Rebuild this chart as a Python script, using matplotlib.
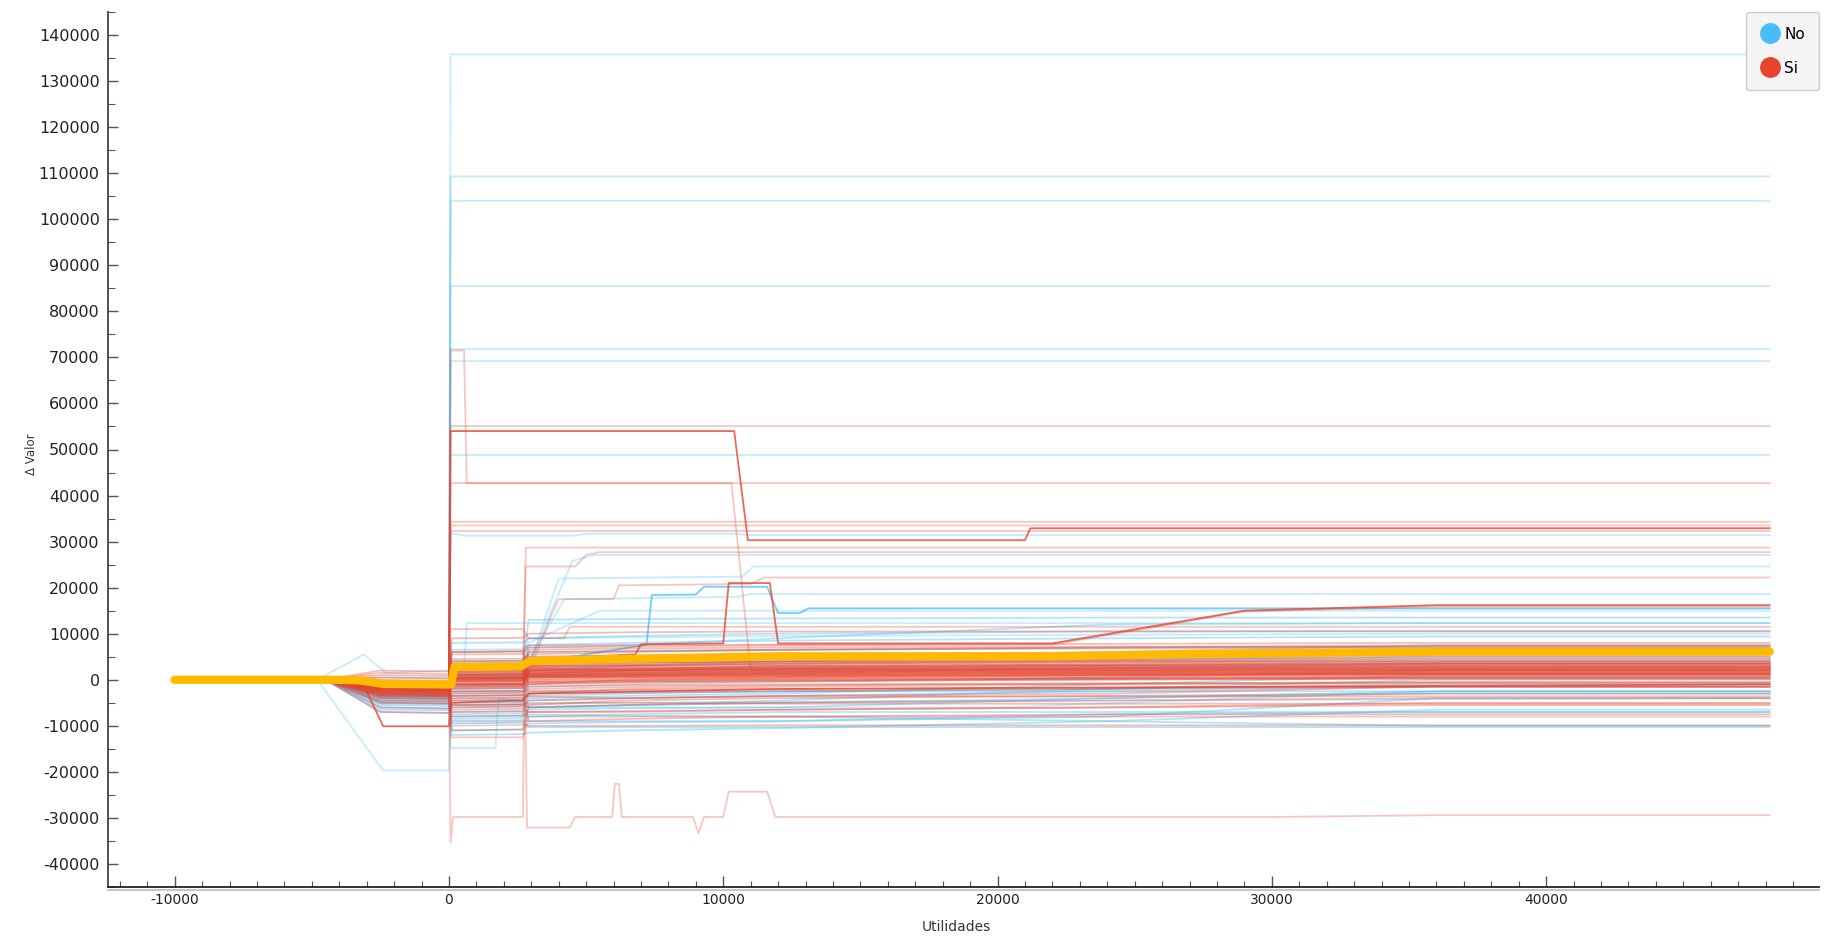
import numpy as np
import matplotlib
matplotlib.use("Agg")
import matplotlib.pyplot as plt
from matplotlib.lines import Line2D
from matplotlib.ticker import MultipleLocator

plt.rcParams["axes.unicode_minus"] = False
plt.rcParams["font.family"] = ["DejaVu Sans"]

COL_NO = "#45bdf7"
COL_SI = "#e8432d"
COL_MEAN = "#ffba00"

# common grid of "Utilidades" for the bulk of the ICE curves
BAND_X = [-10000, -4500, -2500, 0, 100, 2700, 2900, 6500, 12000, 24000, 36000, 48150]

# values at BAND_X[2:]; every curve is centred (0) at the first two grid points
SI_BAND = [
    [-1000, -1200, 500, 600, 1500, 1800, 2000, 2200, 2500, 2500],
    [-2000, -2200, -500, -400, 800, 1000, 1200, 1500, 1800, 1800],
    [-500, -800, 1500, 1600, 2500, 2200, 3000, 3200, 3500, 3500],
    [-3000, -3200, -1500, -1400, 0, 300, 400, 600, 800, 800],
    [1500, 1200, 3000, 3100, 4000, 4800, 4500, 5000, 5500, 5500],
    [-1500, -1700, 0, 100, 1000, 1400, 1500, 1800, 2000, 2000],
    [-4000, -4200, -3000, -2800, -1500, -1200, -1000, -800, -600, -600],
    [-2500, -2600, -1000, -900, 500, 600, 800, 1000, 1200, 1200],
    [500, 300, 2000, 2100, 3000, 3200, 3500, 4000, 4200, 4200],
    [-6000, -6200, -4500, -4300, -3000, -2800, -2500, -2000, -1500, -1500],
    [-1200, -1300, 200, 300, 1200, 2000, 2500, 3000, 3200, 3200],
    [-800, -1000, 1000, 1100, 2000, 2400, 2700, 3000, 3000, 3000],
    [-3500, -3600, -2000, -1800, -500, -300, 0, 300, 500, 500],
    [-2200, -2400, -800, -700, 600, 700, 900, 1100, 1300, 1300],
    [2000, 1800, 4000, 4100, 5500, 6000, 6500, 7000, 7500, 7500],
    [-7000, -7200, -5500, -5300, -5200, -5000, -5200, -5200, -5200, -5200],
    [-1800, -2000, -300, -200, 1000, 1200, 1400, 1600, 1700, 1700],
    [-2800, -3000, -1200, -1100, 200, 500, 600, 900, 1000, 1000],
    [-600, -700, 800, 900, 2200, 2500, 2800, 3300, 3600, 3600],
    [-5000, -5200, -3500, -3300, -3600, -4000, -3600, -3600, -3600, -3600],
    [-1400, -1500, 2500, 2600, 4500, 4200, 5000, 5500, 6000, 6000],
    [-900, -1100, -2500, -2400, -1000, -600, -300, 0, 200, 200],
    [-3200, -3400, 1000, 1100, 2000, 2200, 2300, 2400, 2400, 2400],
    [-2000, -2100, -6000, -5800, -4500, -4000, -3500, -3000, -1500, -1500],
    [1000, 800, 5500, 5600, 7000, 7200, 7500, 7800, 8000, 8000],
    [-4500, -4600, -8000, -7800, -7000, -6800, -6500, -6000, -5000, -5000],
    [-1600, -1800, -1000, -900, 3000, 3200, 3500, 3800, 4000, 4000],
    [-2600, -2800, 200, 300, 1800, 2000, 2200, 2500, 2700, 2700],
    [-1100, -1200, -200, -100, 700, 900, 1000, 1200, 1400, 1400],
    [-3800, -4000, -9500, -9300, -10000, -10000, -9900, -9900, -9900, -9900],
    [-700, -900, 1800, 1900, 2800, 3000, 3200, 3600, 3800, 3800],
    [-2300, -2500, -1800, -1700, -200, 0, 200, 400, 600, 600],
    [0, -200, 3500, 3600, 6000, 6200, 6500, 6800, 7000, 7000],
    [-1300, -1400, -3500, -3400, -2000, -1600, -1200, -800, -500, -500],
    [-2700, -2900, 600, 700, 1400, 1600, 1800, 2000, 2100, 2100],
    [-1900, -2000, 1200, 1300, 2300, 2500, 2600, 2800, 2900, 2900],
    [-3300, -3500, -11000, -10800, -5500, -4500, -4000, -3500, -3000, -3000],
    [-800, -900, 400, 500, 1600, 1800, 1900, 2100, 2300, 2300],
    [-1500, -1600, 9000, 9100, 10000, 10300, 10500, 10500, 10500, 10500],
    [-2400, -2500, -400, -300, 900, 1100, 1300, 1500, 1600, 1600],
    [-1700, -1900, 1400, 1500, 1900, 2100, 2300, 2600, 2800, 2800],
    [-3100, -3300, -2600, -2500, -800, -500, -300, 100, 300, 300],
    [-600, -700, 2200, 2300, 3500, 3800, 4000, 4300, 4600, 4600],
    [-2100, -2200, 100, 200, 1100, 1300, 1600, 1900, 2100, 2100],
    [-900, -1000, -5500, -5400, -6000, -5500, -5000, -4500, -4000, -4000],
    [-1200, -1300, 3500, 3600, -1000, 0, 500, 1000, 1200, 1200],
    [-2500, -2600, -7000, -6800, -3000, -2000, -1500, -1000, -800, -800],
    [-400, -500, 6000, 6100, 3000, 3500, 4000, 4500, 5000, 5000],
    [-3600, -3700, -4000, -3900, -9000, -8500, -8000, -7500, -7500, -7500],
    [-1000, -1100, 1000, 1100, 6500, 6800, 7000, 7200, 7200, 7200],
    [-2900, -3000, -1500, -1400, 3500, 3700, 3800, 4000, 4000, 4000],
    [-1400, -1500, 4500, 4600, 800, 1000, 1200, 1500, 1500, 1500],
    [-500, -600, -4500, -4400, -2500, -2200, -2000, -1800, -1500, -1500],
    [-2200, -2300, 1800, 1900, 5000, 5200, 5500, 5800, 6000, 6000],
    [-1600, -1700, -900, -800, 1300, 1500, 1700, 1900, 2000, 2000],
    [-3400, -3500, 2800, 2900, 500, 700, 900, 1200, 1300, 1300],
    [-800, -900, -1200, -1100, 2000, 2100, 2300, 2500, 2600, 2600],
    [-2000, -2100, 500, 600, -500, -200, 0, 200, 400, 400],
    [-4800, -5000, -6500, -6300, -7000, -7000, -6500, -6000, -5500, -5500],
    [-1300, -1400, 3000, 3100, 2600, 2800, 3000, 3300, 3400, 3400],
]

NO_BAND = [
    [-3000, -3200, -5000, -4800, -3500, -3000, -2500, -2000, -1000, -1000],
    [-5000, -5200, -7500, -7300, -8000, -7500, -7000, -7000, -7000, -7000],
    [-4000, -4200, -10000, -9800, -10300, -10300, -10300, -10300, -10300, -10300],
    [-2000, -2200, -2500, -2400, -2500, -2500, -2500, -2500, -2500, -2500],
    [-3500, -3700, 6500, 6600, 7500, 8000, 8500, 9000, 9400, 9400],
    [-2500, -2700, -6000, -5800, -6000, -5500, -4500, -2000, 0, 0],
    [-6000, -6300, -9000, -8800, -9000, -9000, -9000, -8000, -4000, -4000],
    [-1800, -2000, 500, 600, 5000, 5200, 5500, 6000, 6200, 6200],
    [-4500, -4800, -3000, -2900, 2000, 3000, 4000, 6000, 7500, 7500],
    [-2200, -2300, 3000, 3100, 13000, 13200, 13300, 13500, 13500, 13500],
    [500, 300, -1500, -1400, 1000, 1500, 2000, 2500, 3000, 3000],
    [-3200, -3300, -7000, -6900, -6500, -6200, -6000, -4000, -2500, -2500],
    [-1500, -1600, 1500, 1600, 3500, 3800, 4000, 4500, 5000, 5000],
    [-2800, -3000, -4000, -3900, -1500, -1000, -500, 500, 2000, 2000],
    [-5500, -5700, -11000, -10800, -9500, -9200, -9000, -7500, -7000, -7000],
    [-1200, -1300, 8000, 8100, 9000, 9500, 10000, 10500, 10600, 10600],
    [-4200, -4400, -5500, -5400, -4000, -3500, -3000, -1000, 1000, 1000],
    [-2600, -2700, -1000, -900, 2500, 3000, 3500, 4200, 4500, 4500],
    [-7000, -7200, -8500, -8300, -7500, -7800, -8000, -9000, -10000, -10000],
    [-3800, -3900, 2000, 2100, 7000, 7500, 9000, 12000, 12300, 12300],
    [-1000, -1100, 4000, 4100, 1500, 2000, 2500, 3000, 3500, 3500],
    [-5200, -5300, -3500, -3400, -6000, -5500, -5000, -4000, -3000, -3000],
    [-2300, -2400, -8000, -7800, -4500, -4000, -3500, -2500, -1500, -1500],
    [-6500, -6600, -5000, -4900, 500, 1000, 1500, 2500, 3500, 3500],
    [-1700, -1800, -2000, -1900, 6000, 6300, 6500, 7000, 7200, 7200],
    [-3000, -3100, -12000, -11800, -11500, -11000, -10500, -9000, -6500, -6500],
]

# curves with their own break points (x, y)
SI_PATHS = [
    [(-10000, 0), (-4500, 0), (-2500, -800), (0, -900), (60, 71500), (550, 71500), (650, 42700),
     (10300, 42700), (11000, 2000), (48150, 2500)],
    [(-10000, 0), (-4500, 0), (-2500, -1200), (0, -1300), (60, 55100), (48150, 55100)],
    [(-10000, 0), (-4500, 0), (-2500, -2200), (0, -2300), (60, 42700), (48150, 42700)],
    [(-10000, 0), (-4500, 0), (-2500, -600), (0, -700), (60, 34300), (48150, 34300)],
    [(-10000, 0), (-4500, 0), (-2500, -1700), (0, -1800), (60, 33500), (48150, 33500)],
    [(-10000, 0), (-4500, 0), (-2500, -2600), (0, -2700), (60, 32300), (48150, 32300)],
    [(-10000, 0), (-4500, 0), (-2500, -1400), (0, -1500), (60, 300), (2700, 500), (2800, 28700),
     (48150, 28700)],
    [(-10000, 0), (-4500, 0), (-2500, -1900), (0, -2000), (60, -200), (2700, -200), (2800, 24600),
     (4600, 24600), (5000, 27100), (5500, 27700), (48150, 27700)],
    [(-10000, 0), (-4500, 0), (-2500, -1000), (0, -1100), (60, 1000), (2700, 1200), (2900, 1500),
     (3800, 15000), (4000, 17500), (6000, 17500), (6200, 20500), (11000, 20800), (11500, 22200),
     (48150, 22200)],
    [(-10000, 0), (-4500, 0), (-2500, -1000), (0, -1000), (60, -35300), (150, -29800), (2700, -29800),
     (2750, 5000), (2850, -32100), (4400, -32100), (4600, -29800), (5950, -29800), (6050, -22600),
     (6200, -22600), (6300, -29800), (8900, -29800), (9100, -33400), (9300, -29800), (10000, -29800),
     (10200, -24300), (11600, -24300), (11900, -29800), (30000, -29800), (36000, -29400),
     (48150, -29400)],
    [(-10000, 0), (-4500, 0), (-2500, -3000), (0, -3100), (60, 6000), (2700, 6200), (2900, 7500),
     (12000, 7600), (22000, 7600), (29000, 14800), (36000, 15900), (48150, 15900)],
    [(-10000, 0), (-4500, 0), (-2500, -2000), (0, -2100), (60, -12500), (2700, -12500), (2900, -8000),
     (48150, -8000)],
    [(-10000, 0), (-4500, 0), (-2500, -1500), (0, -1600), (60, 11000), (2700, 11000), (2900, 9000),
     (4200, 9000), (4400, 11500), (48150, 11500)],
]

NO_PATHS = [
    [(-10000, 0), (-4500, 0), (-2500, -1500), (0, -1500), (60, 135800), (48150, 135800)],
    [(-10000, 0), (-4500, 0), (-2500, -2500), (0, -2600), (60, 109300), (48150, 109300)],
    [(-10000, 0), (-4500, 0), (-2500, -1000), (0, -1100), (60, 104000), (48150, 104000)],
    [(-10000, 0), (-4500, 0), (-2500, -3500), (0, -3600), (60, 85500), (48150, 85500)],
    [(-10000, 0), (-4500, 0), (-2500, -2000), (0, -2100), (60, 71800), (48150, 71800)],
    [(-10000, 0), (-4500, 0), (-2500, -4000), (0, -4000), (60, 69200), (48150, 69200)],
    [(-10000, 0), (-4500, 0), (-2500, -1800), (0, -1800), (60, 48800), (48150, 48800)],
    [(-10000, 0), (-4500, 0), (-2500, -3000), (0, -3000), (60, 31800), (600, 31300), (4600, 31300),
     (5000, 31700), (10500, 31700), (10900, 31400), (48150, 31400)],
    [(-10000, 0), (-4800, 0), (-2400, -19700), (0, -19700), (60, -9000), (2800, -9000), (2900, -6000),
     (20000, -6000), (36000, -2500), (48150, -2500)],
    [(-10000, 0), (-4800, 0), (-3100, 5500), (-2300, 1500), (0, 2000), (60, 6000), (2700, 6200),
     (2900, 9000), (12000, 9500), (36000, 10000), (48150, 10000)],
    [(-10000, 0), (-4500, 0), (-2500, -2500), (0, -2600), (60, 1000), (2700, 1200), (2900, 3000),
     (4500, 25800), (5300, 27100), (48150, 27100)],
    [(-10000, 0), (-4500, 0), (-2500, -1600), (0, -1700), (60, 500), (2700, 600), (2900, 2500),
     (4000, 22000), (10700, 22400), (11100, 24600), (48150, 24600)],
    [(-10000, 0), (-4500, 0), (-2500, -2100), (0, -2200), (60, 0), (2700, 0), (2900, 4000),
     (4200, 17500), (10500, 18000), (11000, 18600), (48150, 18600)],
    [(-10000, 0), (-4500, 0), (-2500, -4500), (0, -4600), (60, -14800), (1700, -14800), (1800, -4000),
     (2900, -5000), (48150, -4000)],
    [(-10000, 0), (-4500, 0), (-2500, -2900), (0, -3000), (60, 2000), (550, 2000), (650, 12300),
     (48150, 12300)],
    [(-10000, 0), (-4500, 0), (-2500, -3300), (0, -3400), (60, 4000), (2700, 4200), (2900, 8000),
     (5500, 15000), (48150, 15000)],
]

# darker individual curves
SI_STRONG = [
    [(-10000, 0), (-4500, 0), (-2500, -1500), (0, -1500), (60, 54000), (10400, 54000), (10900, 30300),
     (21000, 30300), (21200, 32900), (48150, 32900)],
    [(-10000, 0), (-3200, 0), (-2400, -10100), (0, -10100), (60, -5000), (2700, -4500), (2900, -3000),
     (12000, -2000), (48150, -1000)],
    [(-10000, 0), (-4500, 0), (-2500, -900), (0, -1000), (60, 2500), (2700, 2800), (2900, 4500),
     (6800, 5500), (7000, 7700), (10000, 7900), (10200, 21000), (11700, 21000), (12000, 7900),
     (22000, 7900), (29000, 15000), (36000, 16200), (48150, 16200)],
]
NO_STRONG = [
    [(-10000, 0), (-4500, 0), (-2500, -1300), (0, -1400), (60, 200), (2700, 300), (2900, 3500),
     (7200, 7600), (7400, 18400), (9000, 18500), (9300, 20200), (11600, 20200), (12000, 14500),
     (12800, 14500), (13100, 15500), (48150, 15500)],
]

# average curve
MEAN_X = [-10000, -4000, -3300, -2400, 0, 80, 200, 2600, 3000, 6000, 12000, 22000, 27000, 36000, 48150]
MEAN_Y = [0, 0, -100, -900, -1000, -1000, 2800, 2900, 4100, 4500, 5100, 5100, 5600, 6100, 6100]

fig = plt.figure(figsize=(18.25, 9.4), dpi=100)
ax = fig.add_axes([108 / 1825, 1 - 887 / 940, (1819 - 108) / 1825, (887 - 12) / 940])

LW = 1.3


def draw_band(rows, color, alpha):
    for vals in rows:
        ax.plot(BAND_X, np.r_[0, 0, vals], color=color, lw=LW, alpha=alpha, solid_joinstyle="round")


def draw_paths(paths, color, alpha):
    for pts in paths:
        xs, ys = zip(*pts)
        ax.plot(xs, ys, color=color, lw=LW, alpha=alpha, solid_joinstyle="round")


draw_paths(NO_PATHS, COL_NO, 0.3)
draw_band(NO_BAND, COL_NO, 0.4)
draw_paths(NO_STRONG, COL_NO, 0.75)
draw_paths(SI_PATHS, COL_SI, 0.3)
draw_band(SI_BAND, COL_SI, 0.35)
draw_paths(SI_STRONG, COL_SI, 0.8)
ax.plot(MEAN_X, MEAN_Y, color=COL_MEAN, lw=6, solid_capstyle="round", solid_joinstyle="round")

ax.set_xlim(-12430, 49950)
ax.set_ylim(-45000, 145000)

ax.xaxis.set_major_locator(MultipleLocator(10000))
ax.xaxis.set_minor_locator(MultipleLocator(1000))
ax.yaxis.set_major_locator(MultipleLocator(10000))
ax.yaxis.set_minor_locator(MultipleLocator(5000))

for s in ("top", "right"):
    ax.spines[s].set_visible(False)
ax.spines["left"].set_color("#444444")
ax.spines["left"].set_linewidth(1.3)
ax.spines["bottom"].set_color("#222222")
ax.spines["bottom"].set_linewidth(1.3)

ax.tick_params(axis="both", which="both", direction="in", colors="#555555")
ax.tick_params(axis="y", which="major", length=7, width=1, labelsize=11.5, labelcolor="#222222", pad=6)
ax.tick_params(axis="y", which="minor", length=5, width=0.8)
ax.tick_params(axis="x", which="major", length=8, width=1, labelsize=10, labelcolor="#222222", pad=4)
ax.tick_params(axis="x", which="minor", length=4, width=0.8)

ax.set_xlabel("Utilidades", fontsize=10, color="#333333")
ax.xaxis.set_label_coords(0.496, -0.038)
ax.set_ylabel("Δ Valor", fontsize=8.5, color="#333333")
ax.yaxis.set_label_coords(-0.041, 0.495)

# light rule under the x axis
fig.add_artist(Line2D([108 / 1825, 1819 / 1825], [1 - 890 / 940, 1 - 890 / 940],
                      color="#bbbbbb", lw=1.2))

handles = [
    Line2D([], [], ls="", marker="o", markersize=14, color=COL_NO, label="No"),
    Line2D([], [], ls="", marker="o", markersize=14, color=COL_SI, label="Si"),
]
leg = fig.legend(handles=handles, loc="upper left", bbox_to_anchor=(1746 / 1825, 1 - 12 / 940),
                 borderaxespad=0, fontsize=11, frameon=True, fancybox=True,
                 handletextpad=0.25, borderpad=0.95, labelspacing=1.25, handlelength=1.3)
leg.get_frame().set_facecolor("#f4f4f4")
leg.get_frame().set_edgecolor("#cccccc")
leg.get_frame().set_alpha(1)

fig.savefig("out.png", dpi=100)
